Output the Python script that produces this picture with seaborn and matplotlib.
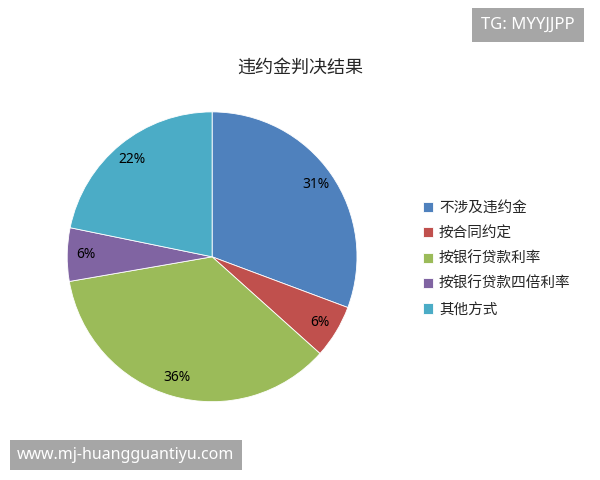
import matplotlib
matplotlib.use("Agg")
import matplotlib.pyplot as plt
import seaborn as sns

# data
categories = ["不涉及违约金", "按合同约定", "按银行贷款利率", "按银行贷款四倍利率", "其他方式"]
shares = [31, 6, 36, 6, 22]
colors = ["#4F81BD", "#C0504D", "#9BBB59", "#8064A2", "#4BACC6"]

sns.set_theme(style="white")
plt.rcParams['font.family'] = ['Noto Sans CJK SC', 'DejaVu Sans']

fig = plt.figure(figsize=(6, 4.8), dpi=100)
ax = fig.add_axes([0.112, 0.163, 0.483, 0.604])

wedges, texts, autotexts = ax.pie(
    shares, colors=sns.color_palette(colors), startangle=90, counterclock=False,
    autopct=lambda p: f"{p:.0f}%", pctdistance=0.87,
    wedgeprops=dict(edgecolor="white", linewidth=0.6),
    textprops=dict(fontsize=10, color="black", family=['Noto Sans', 'DejaVu Sans']))
ax.set_aspect("equal")
ax.set_xlim(-1, 1)
ax.set_ylim(-1, 1)

fig.text(0.5, 1 - 68 / 480, "违约金判决结果", ha="center", va="center", fontsize=13)

fig.legend(wedges, categories, loc="upper left", bbox_to_anchor=(0.705, 1 - 201 / 480),
           frameon=False, fontsize=10.5, handlelength=0.7, handleheight=0.7,
           handletextpad=0.4, labelspacing=0.78, borderaxespad=0, borderpad=0)

# watermark boxes
fig.text(1 - 72 / 600, 1 - 25 / 480, "TG: MYYJJPP", ha="center", va="center",
         fontsize=12, color="white", family=['Noto Sans', 'DejaVu Sans'],
         bbox=dict(boxstyle="square,pad=0.55", fc="#a6a6a6", ec="none"))
fig.text(126 / 600, 1 - 455 / 480, "www.mj-huangguantiyu.com", ha="center", va="center",
         fontsize=11.5, color="white", family=['Noto Sans', 'DejaVu Sans'],
         bbox=dict(boxstyle="square,pad=0.45", fc="#a6a6a6", ec="none"))

fig.savefig("out.png", dpi=100)
